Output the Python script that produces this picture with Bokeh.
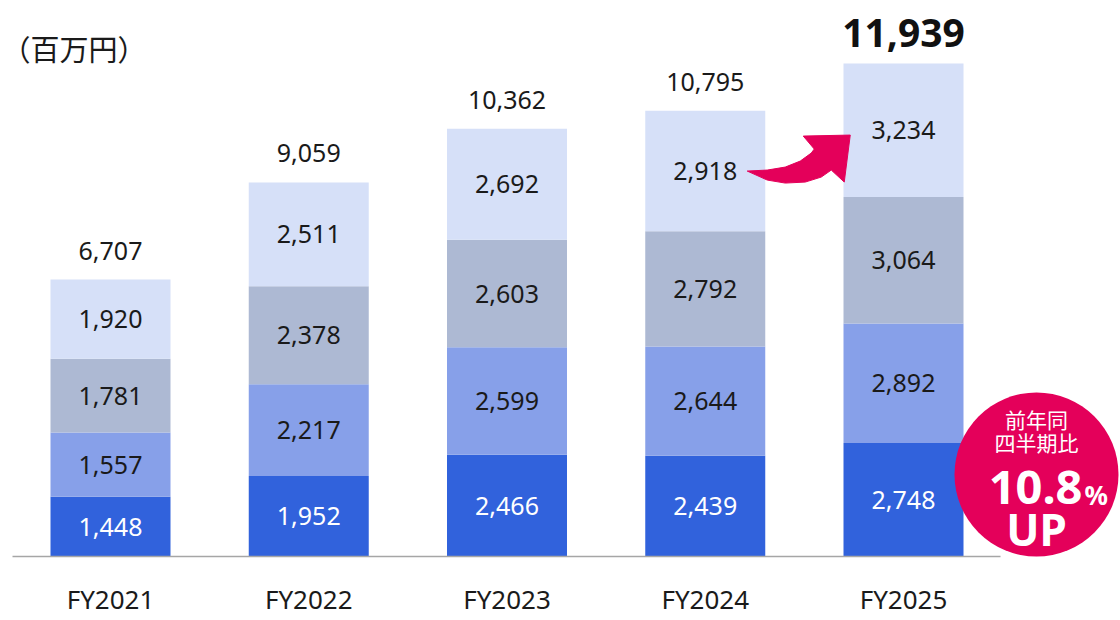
from bokeh.plotting import figure
from bokeh.models import Range1d, ColumnDataSource
from bokeh.embed import file_html
from bokeh.resources import INLINE
from bokeh.core.properties import value

# ---------------- data ----------------
years = ["FY2021", "FY2022", "FY2023", "FY2024", "FY2025"]
seg1 = [1448, 1952, 2466, 2439, 2748]   # bottom
seg2 = [1557, 2217, 2599, 2644, 2892]
seg3 = [1781, 2378, 2603, 2792, 3064]
seg4 = [1920, 2511, 2692, 2918, 3234]   # top
totals = [6707, 9059, 10362, 10795, 11939]
unit_label = "（百万円）"
badge_lines = ["前年同", "四半期比"]
badge_pct = "10.8"
badge_up = "UP"

colors = ["#3162DC", "#87A0E9", "#ADB9D3", "#D6E0F8"]
label_colors = ["white", "#1a1a1a", "#1a1a1a", "#1a1a1a"]
PINK = "#E4005A"

# ---------------- layout constants ----------------
W, H = 1120, 620
PXX = 198.25            # px per category step
X_FIRST = 110           # px of first category centre in figure
BASE = 556              # px of zero line from figure top
KY = 493.0 / 11939      # px per value unit
BAR_W = 120 / PXX

def dx(px):
    return px / PXX

def dy(px):
    return px / KY

x0 = -X_FIRST / PXX
x1 = (W - X_FIRST) / PXX
y0 = -(H - BASE) / KY
y1 = BASE / KY

p = figure(width=W, height=H, x_range=Range1d(x0, x1), y_range=Range1d(y0, y1),
           output_backend="svg", toolbar_location=None,
           x_axis_location=None, y_axis_location=None,
           min_border=0, outline_line_color=None,
           background_fill_color="white", border_fill_color="white")
p.xgrid.visible = False
p.ygrid.visible = False

xs = list(range(len(years)))
segs = [seg1, seg2, seg3, seg4]
src = ColumnDataSource(dict(x=xs, s1=seg1, s2=seg2, s3=seg3, s4=seg4))
p.vbar_stack(["s1", "s2", "s3", "s4"], x="x", width=BAR_W, color=colors,
             line_color=None, source=src)

NUM_FONT = value("Noto Sans")
CJK_FONT = value("Noto Sans CJK JP")

# segment labels
bottoms = [0] * len(years)
for k, seg in enumerate(segs):
    ys = [b + v / 2 for b, v in zip(bottoms, seg)]
    p.text(x=xs, y=ys, text=[f"{v:,}" for v in seg], text_align="center",
           text_baseline="middle", text_font=NUM_FONT, text_font_size="25px",
           text_color=label_colors[k])
    bottoms = [b + v for b, v in zip(bottoms, seg)]

# totals
p.text(x=xs[:-1], y=[t + dy(29) for t in totals[:-1]],
       text=[f"{t:,}" for t in totals[:-1]], text_align="center",
       text_baseline="middle", text_font=NUM_FONT, text_font_size="25px",
       text_color="#1a1a1a")
p.text(x=[xs[-1]], y=[totals[-1] + dy(31)], text=[f"{totals[-1]:,}"],
       text_align="center", text_baseline="middle", text_font=NUM_FONT,
       text_font_size="39px", text_font_style="bold", text_color="#111111")

# baseline
p.segment(x0=[-dx(98)], y0=[0], x1=[xs[-1] + dx(97)], y1=[0],
          line_color="#A6A6A6", line_width=1.5)

# category labels
p.text(x=xs, y=[-dy(42)] * len(xs), text=years, text_align="center",
       text_baseline="middle", text_font=NUM_FONT, text_font_size="26px",
       text_color="#1a1a1a")

# unit label
p.text(x=[x0 + dx(1)], y=[y1 - dy(47)], text=[unit_label], text_align="left",
       text_baseline="middle", text_font=CJK_FONT, text_font_size="29px",
       text_color="#1a1a1a")

# curved arrow (anchored at the FY2024 top-segment label)
ax = xs[3]
ay = bottoms[3] - seg4[3] / 2
offs = [(42, 0), (62, -1), (80, -4), (95, -10), (106, -18), (109, -22), (98, -35),
        (145, -36), (139, 11), (126, -1), (116, 6), (100, 11), (80, 12), (62, 9)]
p.patch(x=[ax + dx(o[0]) for o in offs], y=[ay - dy(o[1]) for o in offs],
        fill_color=PINK, line_color=PINK, line_width=1)

# badge
cx = xs[-1] + dx(133)
cy = dy(82)
p.scatter(x=[cx], y=[cy], size=164, marker="circle", fill_color=PINK,
          line_color=None)
p.text(x=[cx, cx], y=[cy + dy(56), cy + dy(33)], text=badge_lines,
       text_align="center", text_baseline="middle", text_font=CJK_FONT,
       text_font_size="21px", text_color="white")
p.text(x=[cx + dx(46)], y=[cy - dy(13)], text=[badge_pct], text_align="right",
       text_baseline="alphabetic", text_font=NUM_FONT, text_font_size="47px",
       text_font_style="bold", text_color="white")
p.text(x=[cx + dx(48)], y=[cy - dy(20)], text=["%"], text_align="left",
       text_baseline="alphabetic", text_font=NUM_FONT, text_font_size="26px",
       text_font_style="bold", text_color="white")
p.text(x=[cx], y=[cy - dy(54)], text=[badge_up], text_align="center",
       text_baseline="middle", text_font=NUM_FONT, text_font_size="44px",
       text_font_style="bold", text_color="white")

open("out.html", "w").write(file_html(p, INLINE))
